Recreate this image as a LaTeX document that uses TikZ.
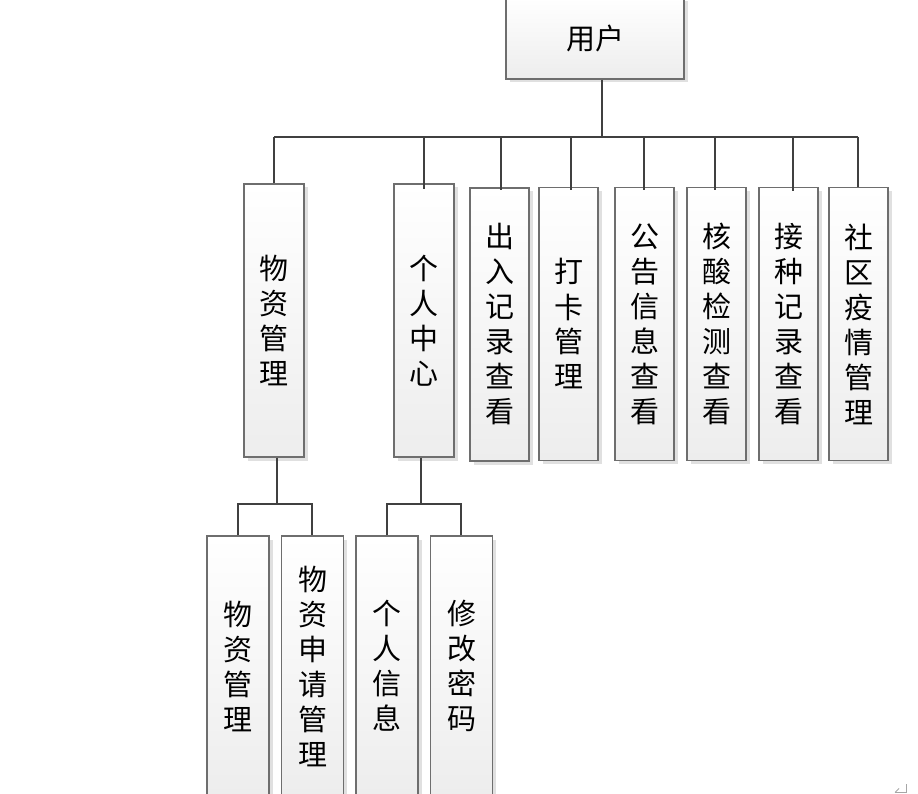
\documentclass[tikz,border=0pt]{standalone}
\usepackage{fontspec}
\setmainfont{Noto Sans CJK SC}
\usetikzlibrary{shadows}
\definecolor{boxborder}{HTML}{6E6E6E}
\definecolor{conncol}{HTML}{404040}
\definecolor{boxbot}{HTML}{EDEDED}
\definecolor{shadowcol}{HTML}{E0E0E0}
\tikzset{
  box/.style={draw=boxborder, line width=1.2pt, top color=white, bottom color=boxbot,
    drop shadow={shadow xshift=3.5pt, shadow yshift=-3.5pt, fill=shadowcol, opacity=1},
    inner sep=0pt, align=center, font=\fontsize{29}{35}\selectfont},
  tallbox/.style={box, minimum width=59pt, minimum height=273pt},
  lowbox/.style={box, minimum width=62pt, minimum height=260pt},
  conn/.style={draw=conncol, line width=2.8pt, line cap=butt, line join=miter}
}
\begin{document}
\begin{tikzpicture}[x=1pt, y=-1pt]
\useasboundingbox (0,0) rectangle (918,794);
% top node
\node[box, minimum width=178pt, minimum height=81pt] (user) at (595,38.5) {用户};
% second level
\node[tallbox, minimum width=60pt] (wz) at (274,320.5) {物\\资\\管\\理};
\node[tallbox, minimum width=60pt] (gr) at (424,320.5) {个\\人\\中\\心};
\node[tallbox] (cr) at (499.5,324.5) {出\\入\\记\\录\\查\\看};
\node[tallbox] (dk) at (568.5,324) {打\\卡\\管\\理};
\node[tallbox] (gg) at (644.5,324) {公\\告\\信\\息\\查\\看};
\node[tallbox] (hs) at (716.5,324) {核\\酸\\检\\测\\查\\看};
\node[tallbox] (jz) at (788.5,324) {接\\种\\记\\录\\查\\看};
\node[tallbox] (sq) at (858.5,324) {社\\区\\疫\\情\\管\\理};
% third level
\node[lowbox] (wz2) at (238,666) {物\\资\\管\\理};
\node[lowbox] (sq2) at (312.5,666) {物\\资\\申\\请\\管\\理};
\node[lowbox] (xx) at (387,666) {个\\人\\信\\息};
\node[lowbox] (mm) at (461.5,666) {修\\改\\密\\码};
% bus coordinates
\coordinate (busA) at (274,137);
\coordinate (busB) at (858,137);
\coordinate (busL) at (238,504);
\coordinate (busR) at (312,504);
\coordinate (busL2) at (387,504);
\coordinate (busR2) at (461,504);
% connectors level 1
\draw[conn] (user.south -| 602,0) -- (602,137);
\draw[conn] (busA) -- (busB);
\draw[conn] (busA) -- (wz.north -| busA);
\draw[conn] (424,137) -- (424,189);
\draw[conn] (501,137) -- (501,190);
\draw[conn] (571,137) -- (571,190);
\draw[conn] (644,137) -- (644,190);
\draw[conn] (715,137) -- (715,190);
\draw[conn] (793,137) -- (793,191);
\draw[conn] (858,137) -- (sq.north -| busB);
% connectors level 2
\draw[conn] (wz.south -| 277,0) -- (277,504);
\draw[conn] (wz2.north -| busL) -- (busL) -- (busR) -- (sq2.north -| busR);
\draw[conn] (gr.south -| 421,0) -- (421,504);
\draw[conn] (xx.north -| busL2) -- (busL2) -- (busR2) -- (mm.north -| busR2);
% corner mark
\draw[gray!70, line width=1pt] (906,784) -- (906,792.5) -- (895,792.5);
\draw[gray!70, line width=1pt] (895,792.5) -- (899,788.5);
\end{tikzpicture}
\end{document}
